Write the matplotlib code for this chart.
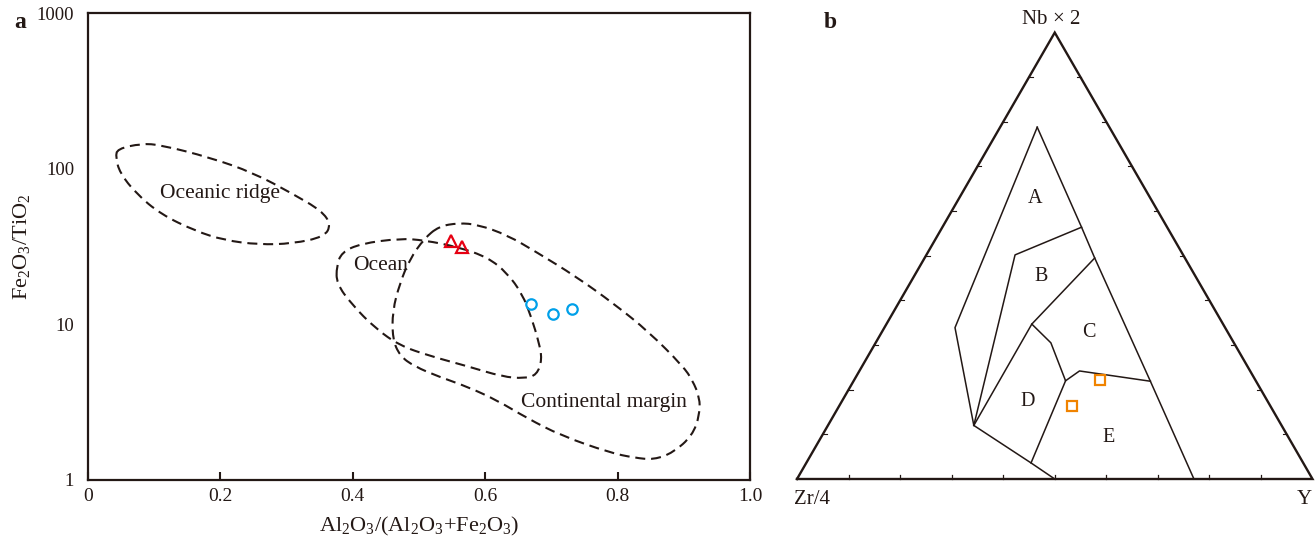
import numpy as np
import matplotlib
matplotlib.use('Agg')
import matplotlib.pyplot as plt
from matplotlib.path import Path
from matplotlib.patches import PathPatch

plt.rcParams['font.family'] = ['Liberation Serif', 'DejaVu Serif']
plt.rcParams['mathtext.fontset'] = 'custom'
plt.rcParams['mathtext.rm'] = 'Liberation Serif'
plt.rcParams['mathtext.it'] = 'Liberation Serif:italic'
plt.rcParams['mathtext.bf'] = 'Liberation Serif:bold'
plt.rcParams['mathtext.default'] = 'regular'

INK = '#231815'

# ---------------- panel a data ----------------
x_ticks = [0, 0.2, 0.4, 0.6, 0.8, 1.0]
x_tick_labels = ['0', '0.2', '0.4', '0.6', '0.8', '1.0']
y_ticks = [1, 10, 100, 1000]
y_tick_labels = ['1', '10', '100', '1000']

ridge_x = [0.044, 0.081, 0.110, 0.184, 0.250, 0.309, 0.353, 0.367, 0.357,
           0.309, 0.258, 0.206, 0.162, 0.110, 0.073, 0.048, 0.042]
ridge_y = [134, 145, 142, 118, 94, 69, 53.6, 43.7, 36.5,
           33, 32.5, 34.7, 39.8, 51, 69, 94, 118]

ocean_x = [0.3755, 0.383, 0.412, 0.471, 0.508, 0.560, 0.604, 0.633, 0.656,
           0.670, 0.681, 0.686, 0.678, 0.659, 0.626, 0.574, 0.516, 0.471,
           0.434, 0.398, 0.3755]
ocean_y = [23.6, 29, 33, 35.6, 34.7, 31.3, 26.9, 21.4, 15.7,
           11.0, 7.69, 5.95, 4.73, 4.49, 4.61, 5.37, 6.27, 7.31,
           9.42, 13.5, 18.3]

cont_x = [0.530, 0.560, 0.589, 0.633, 0.678, 0.737, 0.795, 0.847, 0.899,
          0.913, 0.924, 0.924, 0.913, 0.884, 0.855, 0.825, 0.788, 0.7145,
          0.663, 0.619, 0.574, 0.530, 0.493, 0.471, 0.460, 0.460, 0.471,
          0.486, 0.508]
cont_y = [42.6, 44.8, 43.7, 37.5, 29, 20.3, 13.5, 8.96, 5.37,
          4.38, 3.39, 2.63, 1.93, 1.50, 1.35, 1.39, 1.50, 1.93,
          2.50, 3.23, 3.96, 4.61, 5.37, 6.27, 8.09, 12.2, 18.3,
          26.2, 35.6]

field_names = ['Oceanic ridge', 'Ocean', 'Continental margin']
field_label_x = [0.199, 0.442, 0.779]
field_label_y = [69.2, 23.7, 3.14]

tri_x = [0.548, 0.565]
tri_y = [34.3, 31.4]
circ_x = [0.669, 0.702, 0.731]
circ_y = [13.5, 11.6, 12.5]

# ---------------- panel b data (Nb*2, Zr/4, Y fractions) ----------------
field_lines = [
    [(0.788, 0.140, 0.072), (0.564, 0.166, 0.270), (0.495, 0.175, 0.330),
     (0.219, 0.205, 0.576), (0.0, 0.230, 0.770)],
    [(0.788, 0.140, 0.072), (0.339, 0.524, 0.137), (0.120, 0.597, 0.283),
     (0.036, 0.528, 0.436), (0.0, 0.500, 0.500)],
    [(0.120, 0.597, 0.283), (0.502, 0.326, 0.172), (0.564, 0.166, 0.270)],
    [(0.495, 0.175, 0.330), (0.347, 0.371, 0.282), (0.120, 0.597, 0.283)],
    [(0.347, 0.371, 0.282), (0.305, 0.355, 0.340), (0.220, 0.369, 0.411),
     (0.036, 0.528, 0.436)],
    [(0.220, 0.369, 0.411), (0.242, 0.331, 0.427), (0.219, 0.205, 0.576)],
]
region_names = ['A', 'B', 'C', 'D', 'E']
region_xy = [(0.4627, 0.5437), (0.474, 0.393), (0.5657, 0.2844),
             (0.4473, 0.1503), (0.6043, 0.0813)]
sq_nb = [0.221, 0.163]
sq_zr = [0.302, 0.385]
sq_y = [0.477, 0.452]


def tern(nb, zr, yy):
    nb = np.asarray(nb, float); zr = np.asarray(zr, float); yy = np.asarray(yy, float)
    s = nb + zr + yy
    nb, yy = nb / s, yy / s
    return yy + nb / 2.0, nb * np.sqrt(3) / 2.0


def smooth_closed(xs, ys):
    p = np.column_stack([xs, np.log10(ys)])
    n = len(p)
    mids = (p + np.roll(p, -1, axis=0)) / 2.0
    verts = [mids[-1]]
    codes = [Path.MOVETO]
    for i in range(n):
        verts += [p[i], mids[i]]
        codes += [Path.CURVE3, Path.CURVE3]
    verts = np.array(verts)
    verts[:, 1] = 10 ** verts[:, 1]
    return Path(verts, codes)


fig = plt.figure(figsize=(13.15, 5.39), dpi=100)

# ---------------- panel a ----------------
ax = fig.add_axes([88 / 1315, 1 - 480 / 539, 662 / 1315, 467 / 539])
ax.set_yscale('log')
ax.set_xlim(0, 1.0)
ax.set_ylim(1, 1000)
for sp in ax.spines.values():
    sp.set_linewidth(1.6)
    sp.set_color(INK)
ax.set_xticks(x_ticks)
ax.set_xticklabels(x_tick_labels)
ax.set_yticks(y_ticks)
ax.set_yticklabels(y_tick_labels)
ax.minorticks_off()
ax.yaxis.set_minor_locator(matplotlib.ticker.NullLocator())
ax.tick_params(axis='x', direction='in', length=6, width=1.5, color=INK,
               labelsize=14, pad=6, labelcolor=INK)
ax.tick_params(axis='y', length=0, labelsize=13.5, pad=10, labelcolor=INK)

for xs, ys in [(ridge_x, ridge_y), (ocean_x, ocean_y), (cont_x, cont_y)]:
    patch = PathPatch(smooth_closed(xs, ys), fill=False, edgecolor=INK,
                      lw=1.5, linestyle=(0, (4.8, 2.8)))
    ax.add_patch(patch)

for name, lx, ly in zip(field_names, field_label_x, field_label_y):
    ax.text(lx, ly, name, ha='center', va='center', fontsize=15.5, color=INK)

ax.plot(tri_x, tri_y, linestyle='none', marker='^', ms=8, mfc='none',
        mec='#e60012', mew=1.6)
ax.plot(circ_x, circ_y, linestyle='none', marker='o', ms=7.5, mfc='none',
        mec='#00a0e9', mew=1.6)

ax.set_xlabel('Al$_2$O$_3$/(Al$_2$O$_3$+Fe$_2$O$_3$)', fontsize=16, color=INK,
              labelpad=7)
ax.set_ylabel('Fe$_2$O$_3$/TiO$_2$', fontsize=16, color=INK, labelpad=3)
fig.text(20 / 1315, 1 - 22 / 539, 'a', fontsize=17, fontweight='bold',
         ha='center', va='center', color=INK)

# ---------------- panel b ----------------
L = 515.5
bx = fig.add_axes([780 / 1315, 0, 535 / 1315, 1])
bx.set_xlim(-17 / L, (1315 - 797) / L)
bx.set_ylim(-60 / L, 479 / L)
bx.axis('off')

cx, cy = tern([0, 0, 1, 0], [1, 0, 0, 1], [0, 1, 0, 0])
bx.plot(cx, cy, color=INK, lw=1.7, solid_joinstyle='miter', clip_on=False)

tk = 4.0 / L
for f in np.arange(1, 10) / 10.0:
    x0, y0 = tern(0, 1 - f, f)
    bx.plot([x0, x0], [y0, y0 + tk], color=INK, lw=0.9)
    x0, y0 = tern(f, 1 - f, 0)
    bx.plot([x0, x0 + tk], [y0, y0], color=INK, lw=0.8)
    x0, y0 = tern(f, 0, 1 - f)
    bx.plot([x0, x0 - tk], [y0, y0], color=INK, lw=0.8)

for line in field_lines:
    nb, zr, yy = zip(*line)
    lx, ly = tern(nb, zr, yy)
    bx.plot(lx, ly, color=INK, lw=1.1)

for name, (px, py) in zip(region_names, region_xy):
    bx.text(px, py, name, ha='center', va='center', fontsize=14.5, color=INK)

sx, sy = tern(sq_nb, sq_zr, sq_y)
bx.plot(sx, sy, linestyle='none', marker='s', ms=7, mfc='none',
        mec='#f08300', mew=1.6)

bx.text(0.4927, 0.8916, r'Nb$\,\times\,$2', ha='center', va='center', fontsize=15, color=INK)
bx.text(0.0285, -0.0394, 'Zr/4', ha='center', va='center', fontsize=15, color=INK)
bx.text(0.9847, -0.0394, 'Y', ha='center', va='center', fontsize=15, color=INK)
fig.text(830 / 1315, 1 - 23 / 539, 'b', fontsize=17, fontweight='bold',
         ha='center', va='center', color=INK)

fig.savefig('out.png', dpi=100)
